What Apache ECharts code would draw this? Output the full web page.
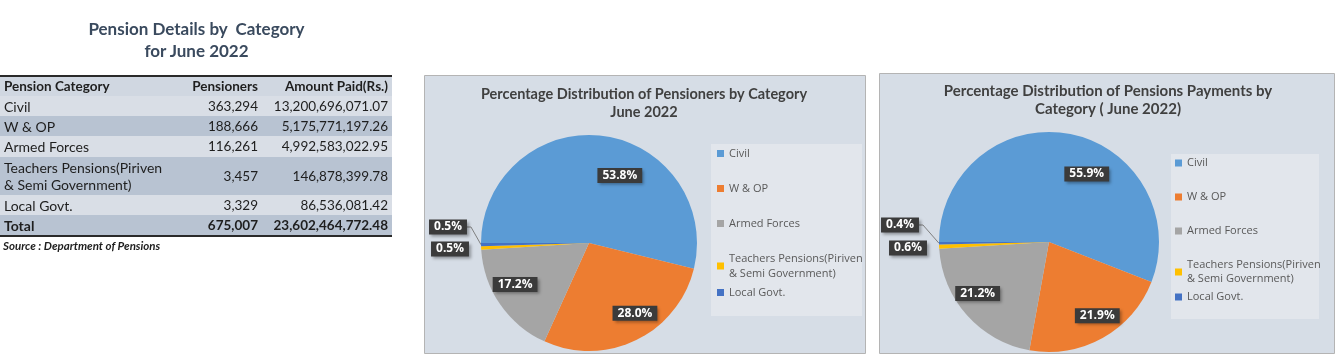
<!DOCTYPE html>
<html>
<head>
<meta charset="utf-8">
<script src="https://cdn.jsdelivr.net/npm/echarts@6/dist/echarts.min.js"></script>
<style>
html,body{margin:0;padding:0;background:#ffffff;}
#wrap{position:relative;width:1338px;height:360px;overflow:hidden;}
#chart{position:absolute;left:0;top:0;width:1338px;height:360px;}
#tbl{position:absolute;left:0;top:0;width:400px;height:360px;font-family:Lato,'Liberation Sans',sans-serif;color:#1e1e1e;}
#tblTitle{position:absolute;left:0;top:18px;width:393px;text-align:center;font-weight:bold;font-size:17px;line-height:22px;color:#3a4a5e;}
#tblWrap table{position:absolute;left:0;top:75px;width:392px;border-collapse:collapse;font-size:14px;border-top:2px solid #2a2a2a;border-bottom:2px solid #2a2a2a;}
#tblWrap td{padding:0 4px;line-height:17px;white-space:nowrap;}
#tblWrap td.num{text-align:right;font-size:13.5px;}
#tblWrap tr.light{background:#d9dee6;}
#tblWrap tr.dark{background:#b8c3d2;}
#tblWrap tr.head{background:#d0d7e1;font-weight:bold;font-size:13.5px;}
#tblWrap tr.total{font-weight:bold;}
#src{position:absolute;left:3px;top:239px;font-size:11.5px;font-weight:bold;font-style:italic;color:#1e1e1e;}
</style>
</head>
<body>
<div id="wrap">
  <div id="chart"></div>
  <div id="tbl">
    <div id="tblTitle"></div>
    <div id="tblWrap"></div>
    <div id="src"></div>
  </div>
</div>
<script>
// ---------------- DATA ----------------
const tableTitle = ['Pension Details by \u00a0Category', 'for June 2022'];
const tableHeaders = ['Pension Category', 'Pensioners', 'Amount Paid(Rs.)'];
const totalLabel = 'Total';
const sourceNote = 'Source : Department of Pensions';
const categories = ['Civil', 'W & OP', 'Armed Forces', 'Teachers Pensions(Piriven & Semi Government)', 'Local Govt.'];
const pensioners = [363294, 188666, 116261, 3457, 3329];
const amountsPaid = [13200696071.07, 5175771197.26, 4992583022.95, 146878399.78, 86536081.42];
const chart1Title = ['Percentage Distribution of Pensioners by Category', 'June 2022'];
const chart2Title = ['Percentage Distribution of Pensions Payments by', 'Category ( June 2022)'];
const sliceColors = ['#5b9bd5', '#ed7d31', '#a5a5a5', '#ffc000', '#4472c4'];

// ---------------- TABLE ----------------
const fmtInt = v => v.toLocaleString('en-US');
const fmtAmt = v => v.toLocaleString('en-US', {minimumFractionDigits: 2, maximumFractionDigits: 2});
const sum = arr => arr.reduce((a, b) => a + b, 0);
const wrapName = n => n.replace('(Piriven & ', '(Piriven\n& ');
document.getElementById('tblTitle').innerHTML = tableTitle.join('<br>');
document.getElementById('src').textContent = sourceNote;
const rowHeights = [20, 20, 21, 38, 20];
const rowClass = ['light', 'dark', 'light', 'dark', 'light'];
let html = '<table><tr class="head" style="height:20px"><td>' + tableHeaders[0] + '</td><td class="num" style="width:78px">' +
  tableHeaders[1] + '</td><td class="num" style="width:122px">' + tableHeaders[2] + '</td></tr>';
categories.forEach((c, i) => {
  html += '<tr class="' + rowClass[i] + '" style="height:' + rowHeights[i] + 'px"><td>' + wrapName(c).replace('\n', '<br>') +
    '</td><td class="num">' + fmtInt(pensioners[i]) + '</td><td class="num">' + fmtAmt(amountsPaid[i]) + '</td></tr>';
});
html += '<tr class="dark total" style="height:21px"><td>' + totalLabel + '</td><td class="num">' + fmtInt(sum(pensioners)) +
  '</td><td class="num">' + fmtAmt(sum(amountsPaid)) + '</td></tr></table>';
document.getElementById('tblWrap').innerHTML = html;

// ---------------- CHARTS ----------------
const chart = echarts.init(document.getElementById('chart'), null, {renderer: 'canvas'});

function pieSeries(values, center, radius, offsets, smallPos) {
  const total = sum(values);
  return {
    type: 'pie',
    center: center,
    radius: radius,
    startAngle: 180,
    clockwise: true,
    avoidLabelOverlap: false,
    silent: true,
    data: categories.map((n, i) => ({
      name: n,
      value: values[i],
      label: {position: i >= 3 ? 'outside' : 'inside'},
      labelLine: {show: i === 4}
    })),
    itemStyle: {borderWidth: 0},
    label: {
      show: true,
      formatter: p => (p.value / total * 100).toFixed(1) + '%',
      color: '#ffffff',
      fontWeight: 'bold',
      fontSize: 12,
      fontFamily: 'Open Sans',
      backgroundColor: '#3b3b3b',
      padding: [2, 5, 1, 5],
      shadowColor: 'rgba(0,0,0,0.35)',
      shadowBlur: 3,
      shadowOffsetX: 2,
      shadowOffsetY: 2
    },
    labelLine: {length: 8, length2: 4, lineStyle: {color: '#7f7f7f', width: 1}},
    labelLayout: p => {
      const i = p.dataIndex;
      if (i < 3) return {dx: offsets[i][0], dy: offsets[i][1]};
      const s = smallPos[i - 3];
      return {x: s[0], y: s[1], align: 'center', verticalAlign: 'middle'};
    }
  };
}

function legendPair(names, left, top1, top2, gap, lh) {
  const base = {
    orient: 'vertical', left: left, itemWidth: 7, itemHeight: 7, itemGap: gap, icon: 'rect',
    padding: 0, selectedMode: false,
    formatter: wrapName,
    textStyle: {fontFamily: 'Open Sans', fontSize: 11, lineHeight: lh, color: '#595959'}
  };
  return [
    Object.assign({}, base, {top: top1, data: names.slice(0, 4)}),
    Object.assign({}, base, {top: top2, data: names.slice(4)})
  ];
}

function titleText(lines, x, y, size) {
  return {
    type: 'text', x: x, y: y, z: 10,
    style: {
      text: lines.join('\n'), align: 'center', verticalAlign: 'middle',
      fontFamily: 'Lato', fontWeight: 'bold', fontSize: size, lineHeight: 18, fill: '#404040'
    }
  };
}

const option = {
  color: sliceColors,
  animation: false,
  graphic: [
    {type: 'rect', shape: {x: 424.5, y: 75.5, width: 441, height: 278}, z: -10,
     style: {fill: '#d6dde6', stroke: '#b4b4b4', lineWidth: 1}},
    {type: 'rect', shape: {x: 879.5, y: 73.5, width: 455, height: 280}, z: -10,
     style: {fill: '#d6dde6', stroke: '#b4b4b4', lineWidth: 1}},
    {type: 'rect', shape: {x: 711, y: 144, width: 151, height: 172}, z: -9, style: {fill: '#e2e6ec'}},
    {type: 'rect', shape: {x: 1171, y: 154, width: 148, height: 165}, z: -9, style: {fill: '#e2e6ec'}},
    titleText(chart1Title, 644, 103, 14.5),
    titleText(chart2Title, 1108, 100, 15)
  ],
  legend: legendPair(categories, 717, 146, 285, 20, 15).concat(legendPair(categories, 1175, 156, 290, 20, 14)),
  series: [
    pieSeries(pensioners, [589, 243], 108, [[24, -11], [21, 19], [-27, 9]], [[450, 249], [448, 227]]),
    pieSeries(amountsPaid, [1049, 242], 110, [[27, -11], [20, 23], [-28, 13]], [[908, 248], [900, 225]])
  ]
};
chart.setOption(option);
</script>
</body>
</html>
